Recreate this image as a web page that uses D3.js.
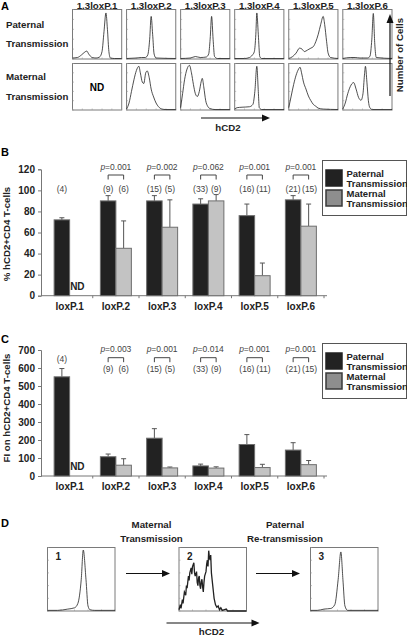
<!DOCTYPE html>
<html><head><meta charset="utf-8">
<script src="https://cdn.jsdelivr.net/npm/d3@7/dist/d3.min.js"></script>
<style>
html,body{margin:0;padding:0;background:#fff;}
svg{display:block;font-family:"Liberation Sans",Arial,Helvetica,sans-serif;}
</style></head><body>
<svg id="fig" width="407" height="635"></svg>
<script>
// ---------- DATA ----------
const loci = ["loxP.1","loxP.2","loxP.3","loxP.4","loxP.5","loxP.6"];
const histTitles = ["1.3loxP.1","1.3loxP.2","1.3loxP.3","1.3loxP.4","1.3loxP.5","1.3loxP.6"];
const seriesNames = ["Paternal","Maternal"];
// Panel B: % hCD2+CD4 T-cells (null = ND)
const pctPaternal = [72, 90, 90, 87, 76, 91];
const pctPaternalErr = [74, 95, 95, 92, 87, 95];
const pctMaternal = [null, 45, 65, 90, 19, 66];
const pctMaternalErr = [null, 71, 91, 96, 31, 87];
const pctTicks = [0,20,40,60,80,100,120];
// Panel C: FI on hCD2+CD4 T-cells
const fiPaternal = [551, 107, 210, 56, 175, 144];
const fiPaternalErr = [597, 122, 263, 66, 230, 185];
const fiMaternal = [null, 60, 45, 44, 47, 63];
const fiMaternalErr = [null, 96, 50, 51, 65, 86];
const fiTicks = [0,100,200,300,400,500,600,700];
// sample sizes and p values
const nPaternal = [4, 9, 15, 33, 16, 21];
const nMaternal = [null, 6, 5, 9, 11, 15];
const pValuesB = [null, "0.001", "0.002", "0.062", "0.001", "0.001"];
const pValuesC = [null, "0.003", "0.001", "0.014", "0.001", "0.001"];
// Panel A histograms: [relative hCD2 position, relative cell count]
const histPaternal = [
  [[0,0.02],[0.1,0.03],[0.18,0.08],[0.25,0.14],[0.29,0.16],[0.33,0.1],[0.4,0.03],[0.48,0.02],[0.55,0.04],[0.6,0.15],[0.64,0.55],[0.68,0.93],[0.71,0.6],[0.74,0.15],[0.77,0.02],[0.85,0.01],[1,0.01]],
  [[0,0.01],[0.2,0.02],[0.3,0.03],[0.38,0.03],[0.43,0.08],[0.47,0.4],[0.5,0.86],[0.53,0.5],[0.56,0.1],[0.6,0.02],[1,0.01]],
  [[0,0.01],[0.2,0.02],[0.3,0.05],[0.4,0.03],[0.52,0.04],[0.57,0.1],[0.6,0.4],[0.63,0.86],[0.66,0.4],[0.69,0.05],[0.75,0.01],[1,0.01]],
  [[0,0.01],[0.2,0.01],[0.3,0.03],[0.36,0.08],[0.4,0.15],[0.43,0.5],[0.45,0.93],[0.48,0.5],[0.51,0.05],[0.55,0.01],[1,0.01]],
  [[0,0.01],[0.08,0.05],[0.15,0.12],[0.22,0.22],[0.27,0.2],[0.32,0.15],[0.38,0.18],[0.45,0.22],[0.5,0.25],[0.55,0.35],[0.6,0.5],[0.65,0.7],[0.7,0.86],[0.73,0.7],[0.77,0.35],[0.8,0.12],[0.85,0.03],[1,0.01]],
  [[0,0.01],[0.15,0.03],[0.25,0.03],[0.35,0.02],[0.5,0.02],[0.55,0.05],[0.59,0.4],[0.62,0.92],[0.65,0.3],[0.68,0.03],[1,0.01]]
];
const histMaternal = [
  null,
  [[0,0.02],[0.05,0.15],[0.1,0.4],[0.15,0.65],[0.2,0.85],[0.25,0.94],[0.28,0.8],[0.32,0.6],[0.35,0.57],[0.39,0.8],[0.42,0.84],[0.46,0.7],[0.5,0.45],[0.55,0.28],[0.6,0.15],[0.65,0.07],[0.72,0.02],[0.8,0.01],[1,0.01]],
  [[0,0.05],[0.04,0.35],[0.08,0.65],[0.13,0.88],[0.18,0.96],[0.22,0.8],[0.26,0.55],[0.3,0.35],[0.34,0.29],[0.38,0.4],[0.42,0.62],[0.44,0.68],[0.47,0.5],[0.51,0.2],[0.55,0.08],[0.6,0.03],[0.7,0.01],[1,0.01]],
  [[0,0.02],[0.05,0.05],[0.15,0.06],[0.3,0.07],[0.37,0.12],[0.41,0.4],[0.45,0.94],[0.48,0.4],[0.5,0.05],[0.55,0.01],[1,0.01]],
  [[0,0.05],[0.05,0.3],[0.1,0.55],[0.15,0.75],[0.2,0.88],[0.23,0.92],[0.26,0.8],[0.3,0.6],[0.35,0.45],[0.4,0.3],[0.45,0.2],[0.5,0.12],[0.55,0.08],[0.6,0.04],[0.7,0.02],[1,0.01]],
  [[0,0.02],[0.05,0.15],[0.1,0.35],[0.15,0.5],[0.22,0.59],[0.27,0.45],[0.32,0.27],[0.37,0.21],[0.41,0.35],[0.44,0.75],[0.46,0.94],[0.49,0.6],[0.52,0.2],[0.55,0.05],[0.6,0.01],[1,0.01]]
];
// Panel D histograms
const histD1 = [[0,0.01],[0.15,0.01],[0.3,0.03],[0.4,0.05],[0.45,0.12],[0.5,0.5],[0.53,0.96],[0.57,0.5],[0.6,0.08],[0.63,0.02],[0.7,0.01],[1,0.01]];
const histD2 = [[0,0.02],[0.02,0.1],[0.03,0.04],[0.05,0.18],[0.06,0.12],[0.08,0.3],[0.1,0.25],[0.11,0.4],[0.12,0.36],[0.14,0.55],[0.15,0.48],[0.16,0.6],[0.18,0.68],[0.19,0.58],[0.2,0.7],[0.22,0.76],[0.23,0.6],[0.24,0.55],[0.26,0.62],[0.27,0.45],[0.28,0.4],[0.29,0.52],[0.3,0.55],[0.31,0.4],[0.32,0.35],[0.33,0.46],[0.34,0.5],[0.35,0.38],[0.36,0.3],[0.37,0.45],[0.38,0.55],[0.4,0.62],[0.41,0.74],[0.42,0.8],[0.43,0.7],[0.44,0.95],[0.45,0.85],[0.46,0.8],[0.47,0.88],[0.48,0.6],[0.5,0.4],[0.51,0.3],[0.52,0.2],[0.54,0.1],[0.56,0.06],[0.58,0.08],[0.6,0.02],[0.62,0.05],[0.64,0.01],[0.7,0.03],[0.72,0.0],[1,0.0]];
const histD3 = [[0,0.01],[0.1,0.01],[0.2,0.03],[0.3,0.04],[0.36,0.1],[0.41,0.5],[0.45,0.93],[0.48,0.5],[0.51,0.08],[0.55,0.01],[1,0.01]];
const dLabels = ["1","2","3"];

// ---------- DRAW ----------
const svg = d3.select("#fig");
svg.append("rect").attr("width",407).attr("height",635).attr("fill","#fff");
const BOLD = "bold";
const darkBar = "#222", lightBar = "#c3c3c3", barStroke = "#6e6e6e", boxStroke = "#7a7a7a";

function panelLabel(t,x,y){ svg.append("text").attr("x",x).attr("y",y).attr("font-size",11).attr("font-weight",BOLD).text(t); }

function histBox(x,y,w,h,data,opts={}){
  const g = svg.append("g");
  const sx = d3.scaleLinear().domain([0,1]).range([x,x+w]);
  const sy = d3.scaleLinear().domain([0,1]).range([y+h,y]);
  g.append("rect").attr("x",x).attr("y",y).attr("width",w).attr("height",h).attr("fill","none").attr("stroke",boxStroke).attr("stroke-width",1);
  const tk = d3.range(0,1.0001,0.2);
  g.selectAll(".bt").data(tk).join("line").attr("x1",d=>sx(d)).attr("x2",d=>sx(d)).attr("y1",y+h).attr("y2",y+h-1.5).attr("stroke","#999").attr("stroke-width",0.6);
  g.selectAll(".lt").data(tk).join("line").attr("y1",d=>sy(d)).attr("y2",d=>sy(d)).attr("x1",x).attr("x2",x+1.5).attr("stroke","#999").attr("stroke-width",0.6);
  if(data){
    const line = d3.line().x(d=>sx(d[0])).y(d=>sy(d[1])).curve(opts.linear?d3.curveLinear:d3.curveMonotoneX);
    g.append("path").attr("d",line(data)).attr("fill","none").attr("stroke","#222").attr("stroke-width",opts.sw||0.8);
  }
  return {sx,sy};
}

function arrowH(x1,x2,y){
  svg.append("line").attr("x1",x1).attr("x2",x2-6).attr("y1",y).attr("y2",y).attr("stroke","#111").attr("stroke-width",1.2);
  svg.append("path").attr("d",`M${x2},${y} L${x2-8},${y-3.5} L${x2-8},${y+3.5} Z`).attr("fill","#111");
}

// ===== Panel A =====
panelLabel("A",1,10);
const aX = d3.scaleBand().domain(histTitles).range([72.5,392]).paddingInner(0.09).paddingOuter(0);
const aRow1 = [9.5,49.5], aRow2 = [63.5,46.5];
histTitles.forEach((t,i)=>{
  const x = aX(t), w = aX.bandwidth();
  svg.append("text").attr("x",x+w/2).attr("y",8.5).attr("text-anchor","middle").attr("font-size",9.7).attr("font-weight",BOLD).attr("fill","#222").text(t);
  histBox(x,aRow1[0],w,aRow1[1],histPaternal[i]);
  histBox(x,aRow2[0],w,aRow2[1],histMaternal[i]);
  if(!histMaternal[i]) svg.append("text").attr("x",x+w/2).attr("y",aRow2[0]+aRow2[1]/2+4).attr("text-anchor","middle").attr("font-size",10).attr("font-weight",BOLD).text("ND");
});
[["Paternal",27.5],["Transmission",47],["Maternal",80],["Transmission",99.5]].forEach(([t,y])=>{
  svg.append("text").attr("x",6).attr("y",y).attr("font-size",9.7).attr("font-weight",BOLD).attr("fill","#222").text(t);
});
svg.append("line").attr("x1",390).attr("x2",390).attr("y1",96).attr("y2",22).attr("stroke","#111").attr("stroke-width",1.2);
svg.append("path").attr("d","M390,14 L386.5,23 L393.5,23 Z").attr("fill","#111");
svg.append("text").attr("transform","translate(403,55) rotate(-90)").attr("text-anchor","middle").attr("font-size",9.7).attr("font-weight",BOLD).attr("fill","#222").text("Number of Cells");
arrowH(201,270,118);
svg.append("text").attr("x",228).attr("y",131).attr("text-anchor","middle").attr("font-size",9.7).attr("font-weight",BOLD).attr("fill","#222").text("hCD2");

// ===== Bar chart panels =====
function barPanel(cfg){
  const y = d3.scaleLinear().domain(cfg.domain).range(cfg.yRange);
  const x0 = d3.scaleBand().domain(loci).range([46.5,324]).padding(0);
  const x1 = d3.scaleBand().domain(seriesNames).range([-15.5,15.5]).padding(0);
  const g = svg.append("g");
  const yAxis = d3.axisLeft(y).tickValues(cfg.ticks).tickSize(3).tickPadding(3);
  const ga = g.append("g").attr("transform",`translate(41,0)`).call(yAxis);
  ga.select(".domain").attr("stroke","#777").attr("stroke-width",1);
  ga.selectAll(".tick line").attr("stroke","#777");
  ga.selectAll(".tick text").attr("font-size",10).attr("font-weight",BOLD).attr("fill","#222").attr("font-family","Liberation Sans, Arial, sans-serif");
  const base = y(0);
  const xAxis = d3.axisBottom(x0).tickSize(0).tickPadding(7);
  const gx = g.append("g").attr("transform",`translate(0,${base})`).call(xAxis);
  gx.select(".domain").remove();
  gx.selectAll(".tick text").attr("font-size",10).attr("font-weight",BOLD).attr("fill","#222").attr("font-family","Liberation Sans, Arial, sans-serif");
  g.append("line").attr("x1",41).attr("x2",327).attr("y1",base).attr("y2",base).attr("stroke","#777").attr("stroke-width",1);
  const bounds = loci.map(d=>x0(d)).concat([x0(loci[loci.length-1])+x0.bandwidth()]);
  g.selectAll(".ct").data(bounds.slice(1)).join("line").attr("x1",d=>d).attr("x2",d=>d).attr("y1",base).attr("y2",base+2.5).attr("stroke","#777");
  g.append("text").attr("transform",`translate(${cfg.titleX},${cfg.titleY}) rotate(-90)`).attr("text-anchor","middle").attr("font-size",9.7).attr("font-weight",BOLD).attr("fill","#222").text(cfg.title);
  const rows = loci.map((l,i)=>({l,i}));
  const series = [
    {name:"Paternal", v:cfg.pat, e:cfg.patErr, fill:darkBar},
    {name:"Maternal", v:cfg.mat, e:cfg.matErr, fill:lightBar}
  ];
  series.forEach(s=>{
    const data = rows.filter(r=>s.v[r.i]!=null);
    const cx = r=>x0(r.l)+x0.bandwidth()/2+x1(s.name)+x1.bandwidth()/2;
    g.selectAll(null).data(data).join("line")
      .attr("x1",cx).attr("x2",cx).attr("y1",r=>y(s.v[r.i])).attr("y2",r=>y(s.e[r.i])).attr("stroke","#555").attr("stroke-width",1);
    g.selectAll(null).data(data).join("line")
      .attr("x1",r=>cx(r)-2.5).attr("x2",r=>cx(r)+2.5).attr("y1",r=>y(s.e[r.i])).attr("y2",r=>y(s.e[r.i])).attr("stroke","#555").attr("stroke-width",1);
    g.selectAll(null).data(data).join("rect")
      .attr("x",r=>x0(r.l)+x0.bandwidth()/2+x1(s.name)).attr("width",x1.bandwidth())
      .attr("y",r=>y(s.v[r.i])).attr("height",r=>base-y(s.v[r.i]))
      .attr("fill",s.fill).attr("stroke",barStroke).attr("stroke-width",1);
  });
  rows.filter(r=>cfg.mat[r.i]==null).forEach(r=>{
    g.append("text").attr("x",x0(r.l)+x0.bandwidth()/2+x1("Maternal")+x1.bandwidth()/2).attr("y",base-6)
      .attr("text-anchor","middle").attr("font-size",10).attr("font-weight",BOLD).attr("fill","#222").text("ND");
  });
  rows.forEach(r=>{
    const cP = x0(r.l)+x0.bandwidth()/2+x1("Paternal")+x1.bandwidth()/2;
    const cM = x0(r.l)+x0.bandwidth()/2+x1("Maternal")+x1.bandwidth()/2;
    const ny = (r.i===0 && cfg.firstNY!=null) ? cfg.firstNY : cfg.nY;
    g.append("text").attr("x",cP).attr("y",ny).attr("text-anchor","middle").attr("font-size",8.5).attr("fill","#444").text(`(${nPaternal[r.i]})`);
    if(nMaternal[r.i]!=null){
      g.append("text").attr("x",cM+(nMaternal[r.i]>=10?1:0)).attr("y",cfg.nY).attr("text-anchor","middle").attr("font-size",8.5).attr("fill","#444").text(`(${nMaternal[r.i]})`);
    }
    if(cfg.p[r.i]!=null){
      g.append("path").attr("d",`M${cP},${cfg.brY+4.5} L${cP},${cfg.brY} L${cM},${cfg.brY} L${cM},${cfg.brY+4.5}`).attr("fill","none").attr("stroke","#444").attr("stroke-width",1);
      const t = g.append("text").attr("x",(cP+cM)/2).attr("y",cfg.pY).attr("text-anchor","middle").attr("font-size",8.5).attr("fill","#444");
      t.append("tspan").attr("font-style","italic").text("p");
      t.append("tspan").text("=" + cfg.p[r.i]);
    }
  });
  const lg = g.append("g").attr("transform",`translate(322.5,${cfg.legY})`);
  lg.append("rect").attr("x",0).attr("y",0).attr("width",84).attr("height",55).attr("fill","#fff").attr("stroke","#555").attr("stroke-width",1);
  [["Paternal",darkBar,"#222"],["Maternal","#8e8e8e","#3a3a3a"]].forEach(([n,f,s],k)=>{
    lg.append("rect").attr("x",3.5).attr("y",9.5+k*20).attr("width",16).attr("height",16).attr("fill",f).attr("stroke",s).attr("stroke-width",1.5);
    lg.append("text").attr("x",24).attr("y",16+k*20).attr("font-size",9.5).attr("font-weight",BOLD).attr("fill","#222").text(n);
    lg.append("text").attr("x",24).attr("y",26+k*20).attr("font-size",9.5).attr("font-weight",BOLD).attr("fill","#222").text("Transmission");
  });
}

panelLabel("B",1,156);
barPanel({domain:[0,120], yRange:[295.7,169.3], ticks:pctTicks, title:"% hCD2+CD4 T-cells", titleX:10, titleY:234,
  pat:pctPaternal, patErr:pctPaternalErr, mat:pctMaternal, matErr:pctMaternalErr,
  nY:192, brY:175, pY:169.5, p:pValuesB, legY:160.5});

panelLabel("C",1,343);
barPanel({domain:[0,700], yRange:[476,350], ticks:fiTicks, title:"FI on hCD2+CD4 T-cells", titleX:10, titleY:408,
  pat:fiPaternal, patErr:fiPaternalErr, mat:fiMaternal, matErr:fiMaternalErr,
  nY:372, firstNY:362, brY:357.7, pY:352, p:pValuesC, legY:343.5});

// ===== Panel D =====
panelLabel("D",1,527);
const dX = [47.5,179,310.5], dW = 67.5, dY = 547.5, dH = 63.5;
[histD1,histD2,histD3].forEach((h,i)=>{
  histBox(dX[i],dY,dW,dH,h,{linear:i===1, sw:i===1?1.3:0.8});
  svg.append("text").attr("x",dX[i]+8).attr("y",dY+12).attr("font-size",10).attr("font-weight",BOLD).attr("fill","#222").text(dLabels[i]);
});
arrowH(126,170,573.5);
arrowH(256,300,573.5);
[["Maternal",151.5,528],["Transmission",151.5,541.5],["Paternal",285,528],["Re-transmission",285,541.5]].forEach(([t,x,y])=>{
  svg.append("text").attr("x",x).attr("y",y).attr("text-anchor","middle").attr("font-size",9.7).attr("font-weight",BOLD).attr("fill","#222").text(t);
});
arrowH(166.5,259.5,623);
svg.append("text").attr("x",211.5).attr("y",634.5).attr("text-anchor","middle").attr("font-size",9.7).attr("font-weight",BOLD).attr("fill","#222").text("hCD2");
</script>
</body></html>
